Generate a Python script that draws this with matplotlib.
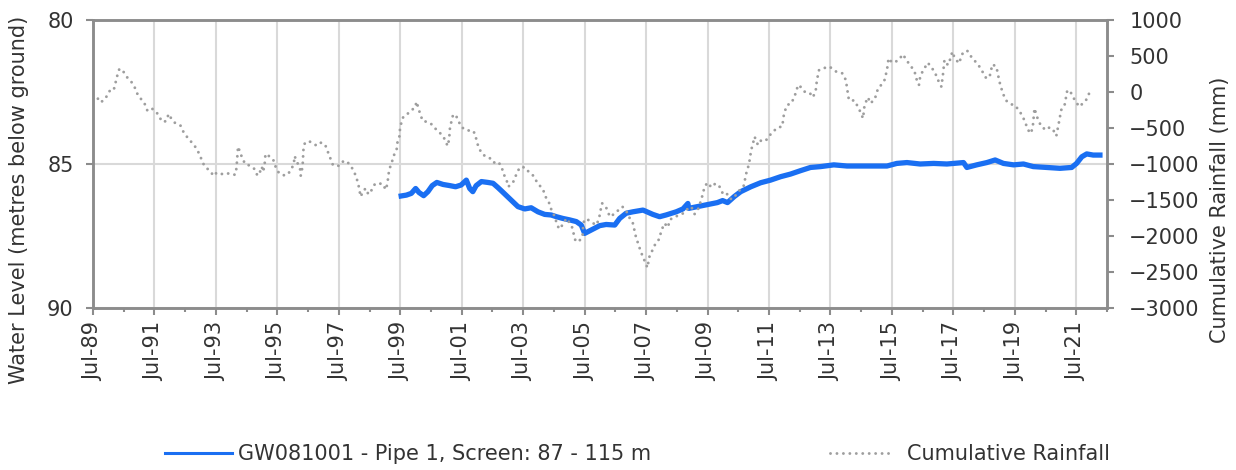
import matplotlib
matplotlib.use("Agg")
import matplotlib.pyplot as plt
from matplotlib.lines import Line2D
from matplotlib.ticker import FixedLocator

# ---------------- data ----------------
# Water level (metres below ground), decimal years
wl_years = [1999.53, 1999.70, 1999.86, 2000.00, 2000.11, 2000.26, 2000.40, 2000.54, 2000.69,
            2000.89, 2001.11, 2001.30, 2001.48, 2001.65, 2001.76, 2001.86, 2001.97, 2002.14,
            2002.35, 2002.52, 2002.68, 2002.82, 2003.33, 2003.55, 2003.76, 2003.98, 2004.20,
            2004.41, 2004.58, 2004.79, 2005.01, 2005.23, 2005.39, 2005.50, 2005.99, 2006.20,
            2006.48, 2006.64, 2006.85, 2007.07, 2007.40, 2007.72, 2007.94, 2008.15, 2008.48,
            2008.70, 2008.86, 2008.89, 2009.82, 2009.99, 2010.15, 2010.37, 2010.58, 2010.91,
            2011.23, 2011.55, 2011.88, 2012.20, 2012.53, 2012.85, 2013.18, 2013.61, 2014.04,
            2014.48, 2014.91, 2015.34, 2015.66, 2015.99, 2016.42, 2016.86, 2017.29, 2017.83,
            2017.94, 2018.26, 2018.59, 2018.86, 2019.13, 2019.46, 2019.78, 2020.10, 2020.54,
            2020.97, 2021.35, 2021.51, 2021.68, 2021.84, 2022.05, 2022.27]
wl_values = [86.11, 86.08, 86.02, 85.85, 85.99, 86.10, 85.96, 85.75, 85.64,
             85.71, 85.75, 85.79, 85.73, 85.56, 85.85, 85.96, 85.75, 85.61,
             85.64, 85.67, 85.82, 85.96, 86.48, 86.56, 86.52, 86.66, 86.75,
             86.77, 86.83, 86.89, 86.94, 87.00, 87.12, 87.41, 87.14, 87.10,
             87.12, 86.89, 86.71, 86.66, 86.60, 86.75, 86.83, 86.77, 86.66,
             86.56, 86.37, 86.54, 86.34, 86.27, 86.34, 86.13, 85.96, 85.79,
             85.65, 85.56, 85.44, 85.35, 85.23, 85.12, 85.09, 85.03, 85.07,
             85.07, 85.07, 85.07, 84.98, 84.95, 85.00, 84.98, 85.00, 84.95,
             85.12, 85.03, 84.95, 84.86, 84.98, 85.03, 85.00, 85.09, 85.12,
             85.15, 85.12, 84.98, 84.75, 84.65, 84.69, 84.69]

# Cumulative rainfall (mm), decimal years
rain_years = [1989.50, 1989.62, 1989.73, 1989.84, 1989.97, 1990.07, 1990.18, 1990.29, 1990.36,
              1990.49, 1990.62, 1990.76, 1990.88, 1990.95, 1991.07, 1991.19, 1991.27, 1991.41,
              1991.57, 1991.68, 1991.81, 1991.92, 1991.95, 1992.06, 1992.18, 1992.35, 1992.44,
              1992.57, 1992.71, 1992.85, 1992.96, 1993.04, 1993.12, 1993.29, 1993.44, 1993.52,
              1993.69, 1993.85, 1994.01, 1994.13, 1994.17, 1994.21, 1994.22, 1994.34, 1994.45,
              1994.61, 1994.77, 1994.85, 1994.93, 1994.99, 1995.04, 1995.10, 1995.11, 1995.26,
              1995.39, 1995.45, 1995.56, 1995.75, 1995.86, 1995.96, 1996.04, 1996.06, 1996.15,
              1996.24, 1996.26, 1996.32, 1996.34, 1996.35, 1996.40, 1996.56, 1996.78, 1996.91,
              1997.05, 1997.12, 1997.21, 1997.30, 1997.43, 1997.48, 1997.56, 1997.73, 1997.86,
              1997.97, 1998.05, 1998.13, 1998.17, 1998.21, 1998.30, 1998.38, 1998.46, 1998.57,
              1998.68, 1998.92, 1999.03, 1999.08, 1999.14, 1999.22, 1999.27, 1999.38, 1999.40,
              1999.47, 1999.49, 1999.53, 1999.60, 1999.73, 1999.87, 1999.98, 2000.03, 2000.09,
              2000.16, 2000.23, 2000.41, 2000.55, 2000.68, 2000.84, 2000.95, 2001.04, 2001.09,
              2001.12, 2001.18, 2001.22, 2001.33, 2001.42, 2001.50, 2001.69, 2001.82, 2001.93,
              2001.98, 2002.04, 2002.15, 2002.31, 2002.42, 2002.53, 2002.69, 2002.80, 2002.87,
              2002.96, 2003.01, 2003.12, 2003.20, 2003.28, 2003.39, 2003.56, 2003.72, 2003.83,
              2003.94, 2004.04, 2004.15, 2004.24, 2004.35, 2004.42, 2004.53, 2004.59, 2004.67,
              2004.78, 2004.91, 2005.02, 2005.11, 2005.15, 2005.21, 2005.35, 2005.43, 2005.45,
              2005.49, 2005.62, 2005.78, 2005.89, 2005.98, 2006.02, 2006.07, 2006.19, 2006.32,
              2006.48, 2006.60, 2006.73, 2006.85, 2006.97, 2007.07, 2007.13, 2007.18, 2007.24,
              2007.31, 2007.40, 2007.49, 2007.54, 2007.62, 2007.70, 2007.81, 2007.92, 2007.99,
              2008.05, 2008.10, 2008.21, 2008.27, 2008.38, 2008.51, 2008.65, 2008.76, 2008.86,
              2008.97, 2009.08, 2009.19, 2009.30, 2009.41, 2009.51, 2009.62, 2009.76, 2009.89,
              2010.02, 2010.16, 2010.27, 2010.38, 2010.55, 2010.67, 2010.76, 2010.85, 2010.92,
              2010.98, 2011.03, 2011.14, 2011.25, 2011.38, 2011.47, 2011.57, 2011.79, 2011.93,
              2011.99, 2012.09, 2012.23, 2012.30, 2012.39, 2012.44, 2012.55, 2012.66, 2012.82,
              2012.93, 2013.02, 2013.06, 2013.13, 2013.26, 2013.47, 2013.69, 2013.89, 2014.00,
              2014.10, 2014.29, 2014.39, 2014.47, 2014.56, 2014.61, 2014.72, 2014.80, 2014.94,
              2015.05, 2015.15, 2015.26, 2015.34, 2015.39, 2015.51, 2015.70, 2015.86, 2015.97,
              2016.13, 2016.24, 2016.29, 2016.38, 2016.42, 2016.51, 2016.67, 2016.78, 2016.89,
              2017.00, 2017.11, 2017.16, 2017.21, 2017.32, 2017.43, 2017.46, 2017.54, 2017.68,
              2017.81, 2017.95, 2018.08, 2018.22, 2018.35, 2018.46, 2018.57, 2018.68, 2018.77,
              2018.90, 2019.00, 2019.11, 2019.22, 2019.38, 2019.49, 2019.63, 2019.76, 2019.85,
              2019.93, 2020.03, 2020.09, 2020.14, 2020.22, 2020.36, 2020.52, 2020.63, 2020.74,
              2020.85, 2020.93, 2021.01, 2021.12, 2021.20, 2021.28, 2021.39, 2021.50, 2021.61,
              2021.71, 2021.82, 2021.93]
rain_values = [-40, -65, -143, -120, -46, 37, 37, 227, 324,
               282, 199, 134, 46, -32, -102, -171, -259, -227,
               -282, -366, -421, -380, -306, -375, -435, -468, -551,
               -630, -699, -773, -861, -945, -1023, -1093, -1167, -1120,
               -1139, -1125, -1148, -1148, -1056, -806, -759, -898, -1000,
               -1023, -1074, -1162, -1116, -1037, -1107, -958, -861, -898,
               -958, -1051, -1130, -1162, -1130, -1074, -981, -889, -981,
               -1074, -1162, -1037, -880, -792, -699, -690, -745, -704,
               -727, -806, -907, -1005, -1009, -1028, -977, -954, -1009,
               -1083, -1162, -1269, -1361, -1454, -1370, -1338, -1421, -1361,
               -1273, -1273, -1357, -1273, -1074, -991, -898, -806, -713,
               -620, -519, -435, -343, -306, -250, -218, -134, -227,
               -319, -403, -417, -458, -528, -588, -657, -750, -657,
               -481, -389, -310, -343, -426, -491, -537, -528, -574,
               -667, -759, -852, -907, -921, -981, -968, -1046, -1144,
               -1222, -1315, -1282, -1232, -1139, -1046, -1046, -1130, -1162,
               -1245, -1301, -1361, -1463, -1546, -1639, -1732, -1824, -1903,
               -1847, -1755, -1824, -1894, -1986, -2079, -2056, -2009, -1870,
               -1769, -1778, -1824, -1847, -1732, -1639, -1546, -1593, -1732,
               -1690, -1640, -1593, -1650, -1755, -1824, -1940, -2033, -2102,
               -2195, -2296, -2380, -2440, -2264, -2204, -2102, -2047, -1940,
               -1870, -1824, -1880, -1778, -1741, -1722, -1695, -1676, -1616,
               -1593, -1695, -1630, -1491, -1306, -1259, -1324, -1269, -1315,
               -1431, -1417, -1491, -1454, -1361, -1315, -1130, -1000, -806,
               -713, -620, -736, -667, -676, -644, -574, -491, -481,
               -296, -181, -157, -88, 5, 97, 65, 5, -9,
               -74, 19, 167, 306, 329, 352, 282, 259, 167,
               -111, -120, -204, -273, -366, -181, -74, -157, -102,
               51, 97, 167, 306, 468, 407, 435, 523, 444,
               352, 282, 190, 97, 213, 296, 407, 343, 282,
               167, 74, 236, 444, 375, 491, 560, 477, 398,
               546, 574, 491, 421, 352, 273, 190, 213, 384,
               352, 143, -19, -120, -171, -181, -250, -343, -435,
               -528, -574, -458, -227, -343, -481, -528, -491, -519,
               -611, -435, -250, -181, 5, 28, -65, -148, -204,
               -157, -111, -9]

x_major_ticks = [1989.5, 1991.5, 1993.5, 1995.5, 1997.5, 1999.5, 2001.5, 2003.5,
                 2005.5, 2007.5, 2009.5, 2011.5, 2013.5, 2015.5, 2017.5, 2019.5, 2021.5]
x_tick_labels = ["Jul-89", "Jul-91", "Jul-93", "Jul-95", "Jul-97", "Jul-99", "Jul-01",
                 "Jul-03", "Jul-05", "Jul-07", "Jul-09", "Jul-11", "Jul-13", "Jul-15",
                 "Jul-17", "Jul-19", "Jul-21"]
x_minor_ticks = [1990.5, 1992.5, 1994.5, 1996.5, 1998.5, 2000.5, 2002.5, 2004.5,
                 2006.5, 2008.5, 2010.5, 2012.5, 2014.5, 2016.5, 2018.5, 2020.5, 2022.5]
left_ticks = [80, 85, 90]
right_ticks = [1000, 500, 0, -500, -1000, -1500, -2000, -2500, -3000]

wl_label = "GW081001 - Pipe 1, Screen: 87 - 115 m"
rain_label = "Cumulative Rainfall"

# ---------------- style ----------------
plt.rcParams['font.family'] = ['DejaVu Sans']
FS = 15
TXT = '#333333'
SPINE = '#8c8c8c'
GRID = '#d9d9d9'
BLUE = '#1a6ff2'
GREY = '#9e9e9e'
DOTS = (0, (0.01, 2.2))

W, H = 1236, 470
fig = plt.figure(figsize=(W / 100, H / 100), dpi=100)
ax = fig.add_axes([93 / W, 1 - 308 / H, (1107 - 93) / W, (308 - 20) / H])
ax2 = ax.twinx()

ax.set_xlim(1989.5, 2022.5)
ax.set_ylim(90, 80)
ax2.set_ylim(-3000, 1000)

ax.plot(wl_years, wl_values, color=BLUE, lw=3.8, solid_joinstyle='round', zorder=3)
ax2.plot(rain_years, rain_values, color=GREY, lw=2.1, linestyle=DOTS,
         dash_capstyle='round', zorder=2)

ax.xaxis.set_major_locator(FixedLocator(x_major_ticks))
ax.xaxis.set_minor_locator(FixedLocator(x_minor_ticks))
ax.set_xticklabels(x_tick_labels, rotation=90)
ax.set_yticks(left_ticks)
ax2.set_yticks(right_ticks)

ax.grid(True, which='major', color=GRID, lw=1.5, zorder=0)
ax.set_axisbelow(True)

for a in (ax, ax2):
    for s in a.spines.values():
        s.set_color(SPINE)
        s.set_linewidth(1.8)

ax.tick_params(axis='x', which='major', direction='out', length=5, width=1.5,
               color=SPINE, labelsize=FS, labelcolor=TXT, pad=5)
ax.tick_params(axis='x', which='minor', direction='out', length=3, width=1.5, color=SPINE)
ax.tick_params(axis='y', direction='out', length=5, width=1.5, color=SPINE,
               labelsize=FS, labelcolor=TXT, pad=9)
ax2.tick_params(axis='y', direction='out', length=5, width=1.5, color=SPINE,
                labelsize=FS, labelcolor=TXT, pad=11)

fig.text(19 / W, 1 - 200 / H, "Water Level (metres below ground)", rotation=90,
         ha='center', va='center', fontsize=FS, color=TXT)
fig.text(1220 / W, 1 - 210 / H, "Cumulative Rainfall (mm)", rotation=90,
         ha='center', va='center', fontsize=FS, color=TXT)

h1 = Line2D([], [], color=BLUE, lw=2.2)
h2 = Line2D([], [], color=GREY, lw=2.1, linestyle=DOTS, dash_capstyle='round')
leg1 = fig.legend([h1], [wl_label], loc='center left', bbox_to_anchor=(165 / W, 1 - 454 / H),
                  frameon=False, fontsize=FS, handlelength=3.2, handletextpad=0.3,
                  borderpad=0, borderaxespad=0, labelcolor=TXT)
leg2 = fig.legend([h2], [rain_label], loc='center left', bbox_to_anchor=(830 / W, 1 - 454 / H),
                  frameon=False, fontsize=FS, handlelength=2.85, handletextpad=0.85,
                  borderpad=0, borderaxespad=0, labelcolor=TXT)

fig.savefig("out.png", dpi=100)
